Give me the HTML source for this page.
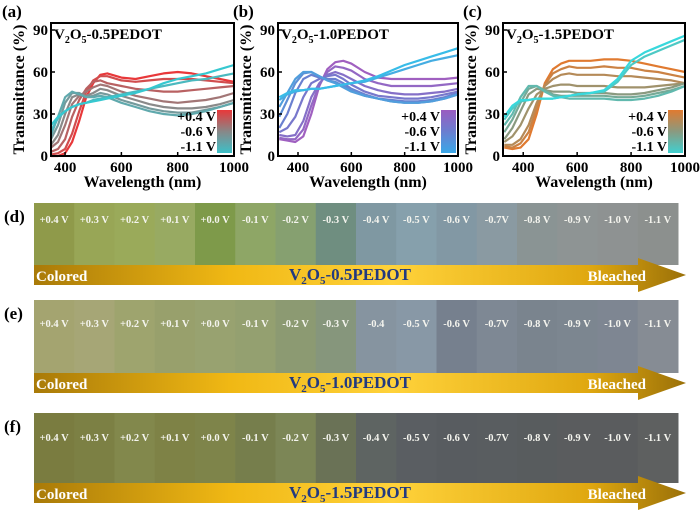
<!DOCTYPE html>
<html><head><meta charset="utf-8">
<style>
html,body{margin:0;padding:0;background:#fff;}
svg{display:block;font-family:"Liberation Serif",serif;}
</style></head>
<body>
<svg id="fig" width="700" height="517" viewBox="0 0 700 517" xmlns="http://www.w3.org/2000/svg">
<defs>
<linearGradient id="barGrad" x1="0" x2="1" y1="0" y2="0">
<stop offset="0" stop-color="#a97a08"/><stop offset="0.3" stop-color="#f0b814"/><stop offset="0.55" stop-color="#ffd23a"/><stop offset="0.85" stop-color="#e0a810"/><stop offset="1" stop-color="#9a7008"/>
</linearGradient>
<linearGradient id="lgA" x1="0" x2="0" y1="0" y2="1"><stop offset="0" stop-color="#e8383a"/><stop offset="0.5" stop-color="#888888"/><stop offset="1" stop-color="#3cc0c8"/></linearGradient>
<linearGradient id="lgB" x1="0" x2="0" y1="0" y2="1"><stop offset="0" stop-color="#9a5cc0"/><stop offset="0.5" stop-color="#6a7ed0"/><stop offset="1" stop-color="#3aa8e8"/></linearGradient>
<linearGradient id="lgC" x1="0" x2="0" y1="0" y2="1"><stop offset="0" stop-color="#e07a30"/><stop offset="0.5" stop-color="#8a9a80"/><stop offset="1" stop-color="#40d0d0"/></linearGradient>
</defs>
<g id="charts"></g>
<g id="photos"></g>
</svg>
<script>
// ---- Panel (a) data ----
const wlA = [350,375,400,425,450,475,500,525,550,600,650,700,750,800,850,900,950,1000];
const curvesA = [
 [0,0,2,10,25,42,52,58,59,56,55,57,59,60,59,57,55,53],
 [1,2,5,16,32,46,54,57,57,54,53,54,55,55,55,54,53,52],
 [3,5,12,28,40,48,53,54,52,50,48,47,46,46,47,48,49,50],
 [6,10,22,37,43,46,49,51,50,46,43,41,39,38,39,40,42,45],
 [8,15,30,42,44,43,45,48,47,43,40,37,35,34,34,35,37,40],
 [12,22,38,45,45,42,43,45,44,40,37,34,32,31,31,33,35,38],
 [15,28,42,46,44,42,42,43,42,38,35,32,30,29,30,32,35,38],
 [18,27,32,35,37,38,40,41,42,44,46,48,50,52,54,55,57,59],
 [22,28,32,35,37,38,39,40,41,43,45,48,52,55,57,59,62,65]
];
// ---- Panel (b) data ----
const wlB = [330,360,390,420,450,480,510,540,570,600,650,700,750,800,850,900,950,1000];
const curvesB = [
 [12,11,10,14,30,50,62,67,68,66,60,56,55,55,55,55,55,56],
 [13,12,12,19,36,51,60,64,63,61,55,52,50,50,50,50,51,52],
 [15,14,15,25,42,52,58,60,58,55,50,47,45,44,44,45,46,48],
 [17,20,28,42,52,55,57,58,55,51,46,43,42,41,41,42,44,46],
 [20,30,45,55,58,56,55,55,52,48,44,41,40,39,39,40,42,45],
 [28,40,52,59,60,57,54,53,50,47,43,41,39,38,38,39,41,44],
 [35,45,55,60,60,57,54,52,49,46,43,41,39,38,38,39,41,44],
 [40,44,46,47,48,48,49,50,51,52,53,56,59,62,65,68,70,72],
 [42,45,47,47,48,48,49,50,51,52,54,57,61,65,68,71,74,77]
];
// ---- Panel (c) data ----
const wlC = [330,360,390,420,450,480,510,540,570,600,650,700,750,800,850,900,950,1000];
const curvesC = [
 [6,5,6,12,30,52,62,66,68,68,68,69,69,68,66,64,62,60],
 [7,6,9,17,34,51,59,62,64,63,63,64,63,63,61,60,58,56],
 [8,8,12,22,38,50,55,58,59,58,58,58,57,57,56,55,54,52],
 [10,14,22,34,44,48,50,51,51,50,50,50,49,49,49,50,51,52],
 [12,20,32,44,48,47,46,46,46,45,45,45,44,44,45,47,49,52],
 [17,26,38,48,50,47,44,43,43,43,43,43,42,42,43,45,47,50],
 [22,30,42,50,50,46,43,42,41,41,41,41,40,40,41,43,46,50],
 [26,34,39,40,41,41,41,42,43,44,45,46,53,65,71,75,79,83],
 [28,36,40,40,41,41,41,42,43,44,45,47,55,68,74,78,82,86]
];
const yTicks = [0,30,60,90];
const xTicks = [400,600,800,1000];
const legendLabels = ["+0.4 V","-0.6 V","-1.1 V"];
const voltLabels = ["+0.4 V","+0.3 V","+0.2 V","+0.1 V","+0.0 V","-0.1 V","-0.2 V","-0.3 V","-0.4 V","-0.5 V","-0.6 V","-0.7V","-0.8 V","-0.9 V","-1.0 V","-1.1 V"];
const voltLabelsE = ["+0.4 V","+0.3 V","+0.2 V","+0.1 V","+0.0 V","-0.1 V","-0.2 V","-0.3 V","-0.4","-0.5 V","-0.6 V","-0.7V","-0.8 V","-0.9 V","-1.0 V","-1.1 V"];
const tileColorsD = ["#8f9a4a","#98a656","#9aaa5a","#98aa62","#7e9a4a","#8ea666","#86a070","#6f8e80","#7f98a2","#86a0ac","#8298a4","#8a9aa2","#8a9494","#8e9494","#8e9292","#8c908e"];
const tileColorsE = ["#a4a470","#a6a676","#9ea46e","#98a06c","#98a270","#94a070","#8c9a72","#86967c","#8694a0","#8898a6","#76808e","#7e8894","#7a848e","#7c8690","#7e8692","#868c94"];
const tileColorsF = ["#7a7c40","#7c8044","#82884c","#7e8246","#7e844a","#767e4c","#7c8656","#6a7256","#5e6462","#5a5e62","#585c60","#595d60","#585c5e","#5a5c5e","#5a5c5e","#5e6060"];

const NS = "http://www.w3.org/2000/svg";
function mk(tag, attrs, parent){const e=document.createElementNS(NS,tag);for(const k in attrs)e.setAttribute(k,attrs[k]);parent.appendChild(e);return e;}
function hex2rgb(h){return [parseInt(h.slice(1,3),16),parseInt(h.slice(3,5),16),parseInt(h.slice(5,7),16)];}
function mix(c,d,t){const a=hex2rgb(c),b=hex2rgb(d);return "rgb("+a.map((v,i)=>Math.round(v+(b[i]-v)*t)).join(",")+")";}
function mix3(c1,c2,c3,t){return t<0.5?mix(c1,c2,t*2):mix(c2,c3,(t-0.5)*2);}

const charts = document.getElementById("charts");
function drawPanel(cfg){
  const g = mk("g",{},charts);
  
  
  const L=cfg.left,R=cfg.right,T=23,B=156;
  const xs = v => L + (v-cfg.xmin)/(1000-cfg.xmin)*(R-L);
  const ys = v => B - v/95*(B-T);
  const cg = mk("g",{},g);
  
  
  cfg.curves.forEach((c,i)=>{
    const t=i/(cfg.curves.length-1);
    const d=c.map((v,j)=>(j?"L":"M")+xs(cfg.wl[j]).toFixed(1)+","+ys(v).toFixed(1)).join(" ");
    const p=mk("path",{d:d,fill:"none",stroke:mix3(cfg.c1,cfg.c2,cfg.c3,t),"stroke-width":2.2,"stroke-linejoin":"round"},cg);
    
    
  });
  const box=mk("rect",{x:L,y:T,width:R-L,height:B-T,fill:"none",stroke:"#000","stroke-width":2},g);
  
  
  yTicks.forEach(v=>{
    mk("line",{x1:L,x2:L+4,y1:ys(v),y2:ys(v),stroke:"#000","stroke-width":1.5},g);
    const t=mk("text",{x:L-3,y:ys(v)+5,"text-anchor":"end","font-size":15,"font-weight":"bold"},g);
    t.textContent=v;
    
    
  });
  xTicks.forEach(v=>{
    mk("line",{x1:xs(v),x2:xs(v),y1:B,y2:B-4,stroke:"#000","stroke-width":1.5},g);
    const t=mk("text",{x:xs(v),y:B+16,"text-anchor":"middle","font-size":15,"font-weight":"bold"},g);
    t.textContent=v;
    
    
  });
  const xt=mk("text",{x:(L+R)/2,y:B+31,"text-anchor":"middle","font-size":16,"font-weight":"bold"},g);
  xt.textContent="Wavelength (nm)";
  
  
  const yt=mk("text",{x:0,y:0,"text-anchor":"middle","font-size":16,"font-weight":"bold",transform:"translate("+(L-27)+","+((T+B)/2)+") rotate(-90)"},g);
  yt.textContent="Transmittance (%)";
  
  
  const pl=mk("text",{x:cfg.labelX,y:17,"font-size":17,"font-weight":"bold"},g);
  pl.textContent=cfg.letter;
  
  
  const st=mk("text",{x:L+3,y:T+16,"font-size":15,"font-weight":"bold"},g);
  st.innerHTML='V<tspan font-size="10" dy="4">2</tspan><tspan dy="-4">O</tspan><tspan font-size="10" dy="4">5</tspan><tspan dy="-4">-'+cfg.title+'PEDOT</tspan>';
  
  
  const lr=mk("rect",{x:R-17,y:110,width:15,height:43,fill:cfg.grad},g);
  
  
  legendLabels.forEach((s,i)=>{
    const t=mk("text",{x:R-18,y:121+i*15,"text-anchor":"end","font-size":14,"font-weight":"bold"},g);
    t.textContent=s;
    
    
  });
}
drawPanel({name:"chart-a",letter:"(a)",labelX:2,left:51,right:234,xmin:350,wl:wlA,curves:curvesA,c1:"#e8383a",c2:"#8a8a8a",c3:"#36c8d0",grad:"url(#lgA)",title:"0.5"});
drawPanel({name:"chart-b",letter:"(b)",labelX:233,left:278,right:458,xmin:325,wl:wlB,curves:curvesB,c1:"#a060c0",c2:"#6a80d0",c3:"#38bce8",grad:"url(#lgB)",title:"1.0"});
drawPanel({name:"chart-c",letter:"(c)",labelX:463,left:503,right:685,xmin:325,wl:wlC,curves:curvesC,c1:"#e07a30",c2:"#8a9a80",c3:"#38d8dc",grad:"url(#lgC)",title:"1.5"});

const photos=document.getElementById("photos");
function drawRow(cfg){
  const g=mk("g",{},photos);
  
  
  const L=34,R=678,w=(R-L)/16;
  cfg.colors.forEach((c,i)=>{
    const r=mk("rect",{x:L+i*w,y:cfg.top,width:w+0.5,height:cfg.bar-cfg.top,fill:c},g);
    
    
    const t=mk("text",{x:L+i*w+w/2,y:cfg.labelY,"text-anchor":"middle","font-size":10.5,"font-weight":"bold",fill:"#f4f4ee"},g);
    t.textContent=cfg.labels[i];
    
    
  });
  const bt=cfg.bar,bb=cfg.bar+20,mid=(bt+bb)/2;
  const ar=mk("path",{d:`M${L},${bt} L638,${bt} L638,${bt-7} L686,${mid} L638,${bb+7} L638,${bb} L${L},${bb} Z`,fill:"url(#barGrad)"},g);
  
  
  const c=mk("text",{x:L+2,y:bb-4,"font-size":15,"font-weight":"bold",fill:"#fff"},g);
  c.textContent="Colored";
  
  
  const b=mk("text",{x:646,y:bb-4,"text-anchor":"end","font-size":15,"font-weight":"bold",fill:"#fff"},g);
  b.textContent="Bleached";
  
  
  const s=mk("text",{x:350,y:bb-5,"text-anchor":"middle","font-size":17,"font-weight":"bold",fill:"#223a80"},g);
  s.innerHTML='V<tspan font-size="11" dy="4">2</tspan><tspan dy="-4">O</tspan><tspan font-size="11" dy="4">5</tspan><tspan dy="-4">-'+cfg.title+'PEDOT</tspan>';
  
  
  const l=mk("text",{x:4,y:cfg.top+19,"font-size":17,"font-weight":"bold"},g);
  l.textContent=cfg.letter;
  
  
}
drawRow({name:"photo-row-d",letter:"(d)",top:203,bar:265,labelY:223,colors:tileColorsD,labels:voltLabels,title:"0.5"});
drawRow({name:"photo-row-e",letter:"(e)",top:300,bar:373,labelY:327,colors:tileColorsE,labels:voltLabelsE,title:"1.0"});
drawRow({name:"photo-row-f",letter:"(f)",top:413,bar:483,labelY:441,colors:tileColorsF,labels:voltLabels,title:"1.5"});
</script>
</body></html>
